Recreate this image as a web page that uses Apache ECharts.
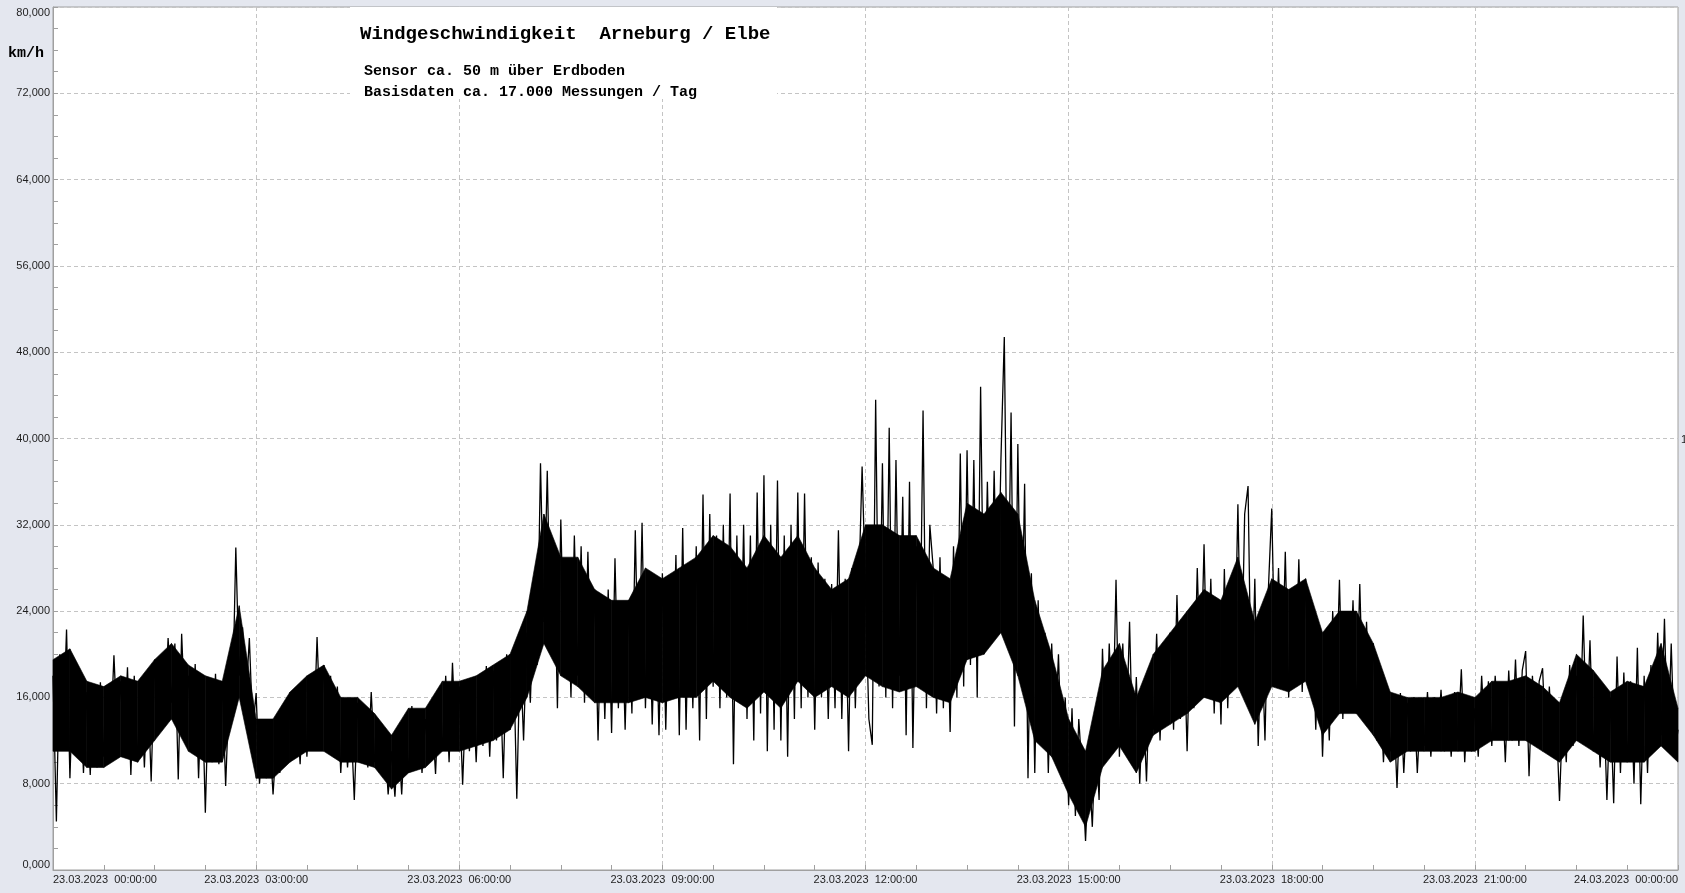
<!DOCTYPE html>
<html>
<head>
<meta charset="utf-8">
<script src="https://cdn.jsdelivr.net/npm/echarts@6/dist/echarts.min.js"></script>
<style>
html,body{margin:0;padding:0;background:#e4e7ef;}
#chart{width:1685px;height:893px;}
</style>
</head>
<body>
<div id="chart"></div>
<script>
// ---- data (km/h) ----
// individual readings: one value every 3 minutes (alternating peaks / dips)
const stepMinutes = 3;
const speed00to03 = [
  18, 4.5, 20, 13, 22.3, 8.5, 18.5, 11, 17.5, 9, 16.5, 8.8, 17, 9.5, 17.4, 10.5, 17, 12, 19.9, 12.5,
  17.5, 11, 18.8, 8.8, 18, 10, 17, 9.5, 17.5, 8.2, 19.5, 13, 20, 14.5, 21.5, 15.5, 21, 8.4, 21.9, 14,
  18, 11, 19.1, 8.5, 17.6, 5.3, 17, 10, 18.2, 9.8, 17.5, 7.8, 16.4, 15, 29.9, 18, 22.5, 15.8, 21.5, 13
];
const speed03to06 = [
  16.4, 8, 13, 8.5, 12.5, 7, 12, 9, 15, 10, 15.8, 10.5, 15, 9.8, 17.5, 10.5, 16.5, 12, 21.6, 13,
  19, 12, 18, 10.5, 17, 9, 15, 9.5, 14, 6.5, 15.5, 10, 15, 9.5, 16.5, 10, 12.5, 9, 12, 7,
  11, 6.8, 12.5, 7, 13.5, 9, 15.2, 10, 14.5, 9, 14, 10, 14.3, 8.9, 16.5, 11, 18, 10, 19.2, 11.5
];
const speed06to09 = [
  17, 7.9, 16.5, 11, 17.5, 10, 18, 11.5, 18.9, 10.5, 18.5, 12, 19, 8.5, 20, 13, 20.4, 6.6, 20.5, 12,
  22, 15.5, 25, 19, 37.7, 23, 37, 21, 30, 15, 32.5, 19, 28, 16, 31, 18, 30, 15.5, 29.5, 17,
  26, 12, 25, 14, 26, 12.7, 28.9, 15, 24.5, 13, 25, 14.5, 31.5, 16, 32.2, 15, 27, 13.5, 26, 12.5
];
const speed09to12 = [
  27.5, 13, 26, 16.5, 29.2, 12.5, 31.7, 13, 28, 15, 30, 12, 34.8, 14, 33, 17, 31, 15, 32, 16,
  34.9, 9.8, 31, 15.5, 32, 14, 31, 12, 35, 14.5, 36.6, 11, 32, 13, 36.1, 12, 31, 10.5, 32, 14,
  35, 15, 34.9, 16, 29, 13, 28.5, 16, 27, 14, 26.5, 15, 31.5, 14, 27, 11, 28, 15, 26, 37.4
];
const speed12to15 = [
  26, 14, 11.6, 43.6, 17, 37.7, 16, 41, 15, 38, 18, 34.6, 12.5, 36, 11.3, 30, 17, 42.6, 15, 32,
  28, 14.5, 29, 15, 27, 12.8, 30, 16, 38.6, 17, 38.9, 19, 38, 16, 44.8, 20, 36, 21, 37, 22,
  38, 49.4, 21, 42.4, 13.3, 39.5, 18, 35.8, 8.5, 27.5, 9, 25, 13, 22, 9, 21, 12, 20, 9.5, 16
];
const speed15to18 = [
  6, 15, 5, 14, 9, 2.7, 10, 4, 13, 6.5, 20.5, 11, 21, 12, 26.9, 10.5, 21, 12, 23, 10,
  17.9, 8, 16, 8.2, 18, 13, 21.9, 12, 21, 13.5, 22, 13, 25.5, 14, 22.5, 11, 23, 15, 28, 17,
  30.2, 16, 27, 14.5, 25, 13.5, 27.9, 15, 26, 18, 33.9, 17, 33, 35.6, 14.5, 27, 11.5, 22, 12, 26
];
const speed18to21 = [
  33.5, 18, 28, 17, 29.5, 16, 26, 17.5, 28.8, 16.5, 27, 18, 23.5, 13, 22, 10.5, 20, 12, 24, 16,
  26.9, 14, 24, 16, 25, 14.5, 26.5, 15, 23, 14, 21, 12, 16.7, 10, 16.5, 11, 15.5, 7.6, 16.4, 9,
  15.5, 11, 16, 9, 15.5, 11.5, 16.5, 10.5, 16, 12, 16.7, 11, 16, 10.5, 16.5, 12, 18.6, 10, 16, 11
];
const speed21to24 = [
  15, 10.5, 18, 12, 17.5, 11.5, 18, 12.5, 17.2, 10, 18.5, 12, 19.5, 11.5, 18.5, 20.3, 8.7, 18, 12, 17.5,
  18.7, 11, 17, 10.5, 14.5, 6.4, 15, 10, 19, 11.5, 18, 12, 23.6, 12.5, 21.3, 11, 17, 9.5, 16.5, 6.5,
  16, 6.2, 19.8, 9, 18.3, 10, 17.5, 8, 20.6, 6.1, 18, 9, 19, 11, 22, 12.5, 23.3, 11, 21, 10.5, 13
];
// dense core of the measurement band: lower / upper edge every 15 minutes
const coreStepMinutes = 15;
const coreLow = [
  11, 11, 9.5, 9.5,    10.5, 10, 12, 14,     11, 10, 10, 16,       8.5, 8.5, 10, 11,
  11, 10, 10, 9.5,     7.5, 9, 9.5, 11,      11, 11.5, 12, 13,     16, 21, 18, 17,
  15.5, 15.5, 15.5, 16, 15.5, 16, 16, 17.5,  16, 15, 16.5, 15,     17.5, 16, 17, 16,
  18, 17, 16.5, 17,    16, 15.5, 19.5, 20,   22, 18, 12, 10.5,     7, 4, 9.5, 11.5,
  9, 12.5, 13.5, 14.5, 16, 15.5, 17, 13.5,   17, 16.5, 17.5, 12.5, 14.5, 14.5, 12.5, 10,
  11, 11, 11, 11,      11, 12, 12, 12,       11, 10, 12, 11,       10, 10, 10, 11.5,
  10
];
const coreHigh = [
  19.5, 20.5, 17.5, 17, 18, 17.5, 19.5, 21,  19, 18, 17.5, 24.5,   14, 14, 16.5, 18,
  19, 16, 16, 14.5,    12.5, 15, 15, 17.5,   17.5, 18, 19, 20,     24, 33, 29, 29,
  26, 25, 25, 28,      27, 28, 29, 31,       30, 28, 31, 29,       31, 28, 26, 27,
  32, 32, 31, 31,      28, 27, 34, 33,       35, 33, 25, 20,       14, 11, 18.5, 21,
  16, 20, 22, 24,      26, 25, 29, 23,       27, 26, 27, 22,       24, 24, 21, 16.5,
  16, 16, 16, 16.5,    16, 17.5, 17.5, 18,   17, 15.5, 20, 18.5,   16.5, 17.5, 17, 21,
  15
];
const timeTickLabels = [
  '23.03.2023  00:00:00', '23.03.2023  03:00:00', '23.03.2023  06:00:00',
  '23.03.2023  09:00:00', '23.03.2023  12:00:00', '23.03.2023  15:00:00',
  '23.03.2023  18:00:00', '23.03.2023  21:00:00', '24.03.2023  00:00:00'
];
const unitLabel = 'km/h';
const titleText = 'Windgeschwindigkeit  Arneburg / Elbe';
const subtitleLines = ['Sensor ca. 50 m über Erdboden', 'Basisdaten ca. 17.000 Messungen / Tag'];
const rightEdgeMark = '1';

// ---- build ----
const allSpeeds = [].concat(speed00to03, speed03to06, speed06to09, speed09to12,
  speed12to15, speed15to18, speed18to21, speed21to24);
const seriesData = allSpeeds.map((v, i) => [i * stepMinutes, v]);
// band segments: [t, low, high, tNext, lowNext, highNext]
const coreSegments = [];
for (let i = 0; i < coreLow.length - 1; i++) {
  coreSegments.push([i * coreStepMinutes, coreLow[i], coreHigh[i],
    (i + 1) * coreStepMinutes, coreLow[i + 1], coreHigh[i + 1]]);
}

const axisGray = '#a0a0a0';
const labelFont = '"Liberation Sans", Arial, sans-serif';
const monoFont = '"Liberation Mono", "Courier New", monospace';

function renderCore(params, api) {
  const a = api.coord([api.value(0), api.value(1)]);
  const b = api.coord([api.value(3), api.value(4)]);
  const c = api.coord([api.value(3), api.value(5)]);
  const d = api.coord([api.value(0), api.value(2)]);
  return {type: 'polygon', shape: {points: [a, b, c, d]},
    style: {fill: '#000', stroke: '#000', lineWidth: 0.6}, silent: true};
}

const chart = echarts.init(document.getElementById('chart'), null, {renderer: 'canvas'});
chart.setOption({
  animation: false,
  backgroundColor: '#e4e7ef',
  grid: {left: 53, right: 7, top: 7, bottom: 23, show: true, backgroundColor: '#ffffff',
    borderColor: axisGray, borderWidth: 1},
  xAxis: {
    type: 'value', min: 0, max: 1440, interval: 180,
    axisLine: {show: true, lineStyle: {color: axisGray}},
    axisTick: {show: true, inside: true, length: 5, lineStyle: {color: axisGray}},
    minorTick: {show: true, splitNumber: 4, length: 5, lineStyle: {color: axisGray}},
    splitLine: {show: true, lineStyle: {color: '#c4c4c4', type: [4, 3], width: 1}},
    axisLabel: {
      formatter: v => timeTickLabels[Math.round(v / 180)] || '',
      color: '#1e1e1e', fontSize: 11, fontFamily: labelFont, margin: 4,
      alignMinLabel: 'left', alignMaxLabel: 'right', showMinLabel: true, showMaxLabel: true
    }
  },
  yAxis: {
    type: 'value', min: 0, max: 80, interval: 8,
    axisLine: {show: true, lineStyle: {color: axisGray}},
    axisTick: {show: true, inside: true, length: 5, lineStyle: {color: axisGray}},
    minorTick: {show: true, splitNumber: 4, length: 5, lineStyle: {color: axisGray}},
    splitLine: {show: true, lineStyle: {color: '#c4c4c4', type: [4, 3], width: 1}},
    axisLabel: {
      formatter: v => v.toFixed(3).replace('.', ','),
      color: '#1e1e1e', fontSize: 11, fontFamily: labelFont, margin: 3,
      verticalAlignMinLabel: 'bottom', verticalAlignMaxLabel: 'top',
      showMinLabel: true, showMaxLabel: true
    }
  },
  series: [
    {type: 'custom', data: coreSegments, renderItem: renderCore, silent: true, z: 2,
      encode: {x: [0, 3], y: [1, 2, 4, 5]}},
    {type: 'line', data: seriesData, showSymbol: false, silent: true,
      lineStyle: {color: '#000000', width: 1.3}, z: 3}
  ],
  graphic: [
    {type: 'rect', z: 20, shape: {x: 350, y: 7, width: 427, height: 92}, style: {fill: '#ffffff'}},
    {type: 'text', z: 21, x: 360, y: 34, style: {text: titleText, fontSize: 19, fontWeight: 'bold',
      fontFamily: monoFont, fill: '#000', verticalAlign: 'middle'}},
    {type: 'text', z: 21, x: 364, y: 71.5, style: {text: subtitleLines[0], fontSize: 15, fontWeight: 'bold',
      fontFamily: monoFont, fill: '#000', verticalAlign: 'middle'}},
    {type: 'text', z: 21, x: 364, y: 92.5, style: {text: subtitleLines[1], fontSize: 15, fontWeight: 'bold',
      fontFamily: monoFont, fill: '#000', verticalAlign: 'middle'}},
    {type: 'text', z: 21, x: 8, y: 53, style: {text: unitLabel, fontSize: 15, fontWeight: 'bold',
      fontFamily: monoFont, fill: '#000', verticalAlign: 'middle'}},
    {type: 'text', z: 21, x: 1681, y: 440, style: {text: rightEdgeMark, fontSize: 11,
      fontFamily: labelFont, fill: '#1e1e1e', verticalAlign: 'middle'}}
  ]
});
</script>
</body>
</html>
